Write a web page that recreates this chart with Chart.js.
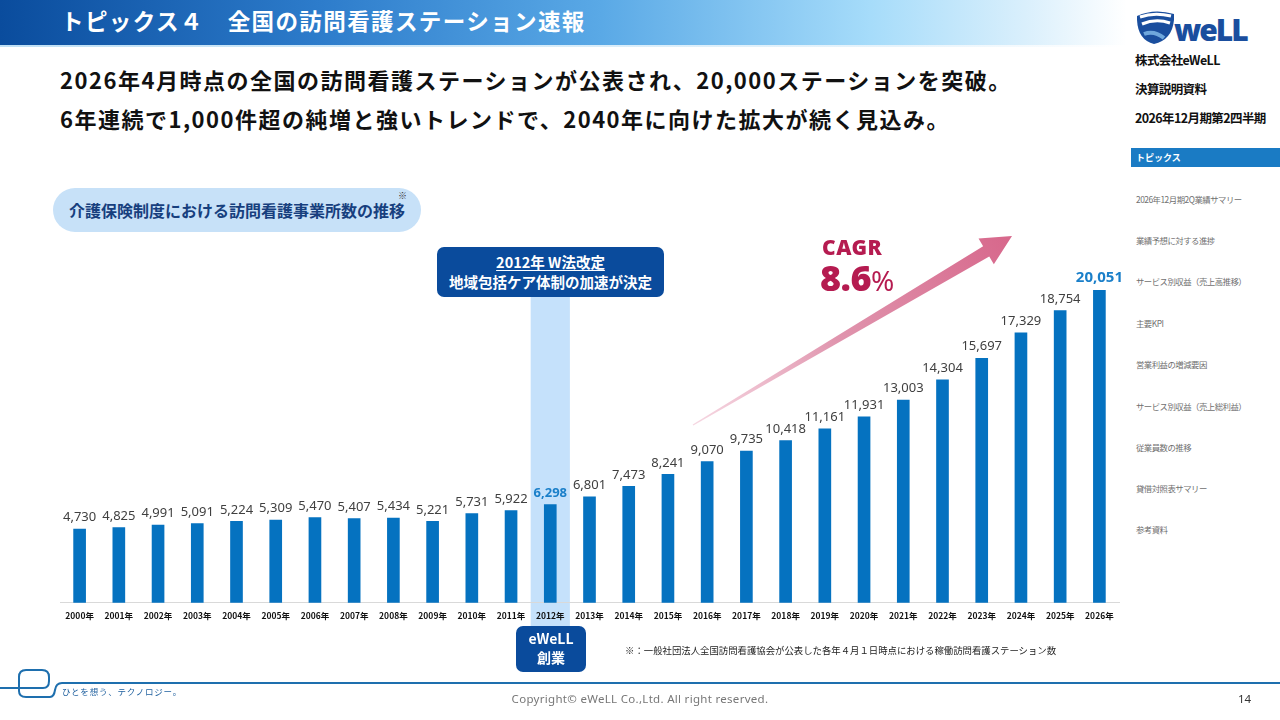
<!DOCTYPE html>
<html lang="ja">
<head>
<meta charset="utf-8">
<script src="https://cdn.jsdelivr.net/npm/chart.js@4.4.1/dist/chart.umd.min.js"></script>
<style>
  html,body{margin:0;padding:0;background:#fff;}
  body{width:1280px;height:720px;position:relative;overflow:hidden;font-family:"Noto Sans CJK JP","Noto Sans",sans-serif;}
  .abs{position:absolute;}
  #header{left:0;top:0;width:1280px;height:45px;background:linear-gradient(90deg,#0a4c9d 0%,#2d7ccb 25%,#5aa9e6 47%,#a6dcfa 68%,#d9effc 80%,#ffffff 88%);}
  #headerline{left:0;top:45px;width:1120px;height:2px;background:linear-gradient(90deg,#bfe0f5,#e6f3fb 80%,#fff);}
  #title{left:61px;top:4px;color:#fff;font-weight:700;font-size:22.5px;letter-spacing:1.4px;white-space:nowrap;}
  .headline{left:60px;font-weight:700;font-size:22px;color:#111;white-space:nowrap;letter-spacing:1.5px;}
  #pill{left:53px;top:188px;width:368px;height:44px;border-radius:22px;background:#c7e1f8;color:#173f7e;font-weight:700;font-size:16px;line-height:44px;text-align:center;}
  #pillmark{left:398px;top:189px;font-size:9px;color:#333;}
  #cv{left:0;top:0;}
  #note1{left:437px;top:247px;width:227px;height:50px;border-radius:7px;background:#0a4b9c;color:#fff;font-weight:700;font-size:14.5px;line-height:20px;text-align:center;padding-top:5px;box-sizing:border-box;}
  #note1 u{text-decoration:underline;text-underline-offset:2px;}
  #note2{left:516px;top:626px;width:70px;height:46px;border-radius:7px;background:#0a4b9c;color:#fff;font-weight:700;font-size:14px;line-height:19px;text-align:center;padding-top:3px;box-sizing:border-box;}
  #cagr1{left:822px;top:233px;color:#b51b50;font-weight:900;font-size:21px;font-family:"Noto Sans","Open Sans",sans-serif;letter-spacing:0.5px;}
  #cagr2{left:820px;top:253px;color:#b51b50;font-weight:900;font-size:36px;font-family:"Noto Sans","Open Sans",sans-serif;letter-spacing:-0.5px;}
  #cagr2 span{font-weight:400;font-size:28px;}
  #foot{left:625px;top:643px;font-size:9.4px;color:#222;white-space:nowrap;}
  .side{left:1135px;font-weight:700;font-size:12.5px;color:#111;white-space:nowrap;letter-spacing:-0.6px;}
  #sidehl{left:1131px;top:148px;width:149px;height:19px;background:#1a7bc4;color:#fff;font-weight:700;font-size:9px;line-height:19px;padding-left:5px;box-sizing:border-box;}
  .item{left:1136px;font-size:8.4px;color:#6f6f6f;white-space:nowrap;letter-spacing:-0.5px;}
  #tag{left:62px;top:685px;font-size:8.5px;letter-spacing:0.8px;color:#1e5f9e;}
  #copy{left:0;width:1280px;top:691px;text-align:center;font-size:11.5px;letter-spacing:0.3px;color:#777;font-family:"Noto Sans","DejaVu Sans",sans-serif;}
  #page{left:1238px;top:691px;font-size:11.5px;color:#333;font-family:"Noto Sans",sans-serif;}
</style>
</head>
<body>
<div id="header" class="abs"></div>
<div id="headerline" class="abs"></div>
<div id="title" class="abs">トピックス４　全国の訪問看護ステーション速報</div>

<svg class="abs" style="left:1134px;top:4px" width="120" height="44" viewBox="0 0 120 44">
  <path d="M3 12 Q20 4 40 10 L40 16 Q38 36 20 40 Q4 36 3 16 Z" fill="#1a4e9e"/>
  <path d="M6 13 Q20 8 37 12" stroke="#fff" stroke-width="3" fill="none"/>
  <path d="M8 20 Q22 14 36 19" stroke="#fff" stroke-width="3" fill="none"/>
  <path d="M10 30 Q20 26 30 34" stroke="#6fa7dc" stroke-width="4" fill="none"/>
  <text x="40" y="37" font-family="Noto Sans, sans-serif" font-weight="900" font-size="30" fill="#1a4e9e" letter-spacing="-2">weLL</text>
</svg>
<div class="abs side" style="top:50px">株式会社eWeLL</div>
<div class="abs side" style="top:79px">決算説明資料</div>
<div class="abs side" style="top:108px">2026年12月期第2四半期</div>
<div id="sidehl" class="abs">トピックス</div>
<div class="abs item" style="top:193px">2026年12月期2Q業績サマリー</div>
<div class="abs item" style="top:234px">業績予想に対する進捗</div>
<div class="abs item" style="top:275px">サービス別収益（売上高推移）</div>
<div class="abs item" style="top:317px">主要KPI</div>
<div class="abs item" style="top:358px">営業利益の増減要因</div>
<div class="abs item" style="top:400px">サービス別収益（売上総利益）</div>
<div class="abs item" style="top:441px">従業員数の推移</div>
<div class="abs item" style="top:482px">貸借対照表サマリー</div>
<div class="abs item" style="top:523px">参考資料</div>

<div class="abs headline" style="top:63px">2026年4月時点の全国の訪問看護ステーションが公表され、20,000ステーションを突破。</div>
<div class="abs headline" style="top:102px">6年連続で1,000件超の純増と強いトレンドで、2040年に向けた拡大が続く見込み。</div>

<div id="pill" class="abs">介護保険制度における訪問看護事業所数の推移</div>
<div id="pillmark" class="abs">※</div>

<canvas id="cv" class="abs" width="1280" height="720"></canvas>

<div id="note1" class="abs"><u>2012年 W法改定</u><br>地域包括ケア体制の加速が決定</div>
<div id="note2" class="abs">eWeLL<br>創業</div>
<div id="cagr1" class="abs">CAGR</div>
<div id="cagr2" class="abs">8.6<span>%</span></div>
<div id="foot" class="abs">※：一般社団法人全国訪問看護協会が公表した各年４月１日時点における稼働訪問看護ステーション数</div>

<svg class="abs" style="left:0;top:660px" width="1280" height="44">
  <path d="M0 28 L43 28 Q49 28 49 21 L49 17 Q49 10 42 10 L26 10 Q19 10 19 17 L19 31 Q19 37 26 37 L50 37 Q54 37 55 30 Q56 23 62 23 L1280 23" stroke="#1e6fae" stroke-width="2" fill="none"/>
</svg>
<div id="tag" class="abs">ひとを想う、テクノロジー。</div>
<div id="copy" class="abs">Copyright© eWeLL Co.,Ltd. All right reserved.</div>
<div id="page" class="abs">14</div>

<script>
const years = ["2000年","2001年","2002年","2003年","2004年","2005年","2006年","2007年","2008年","2009年","2010年","2011年","2012年","2013年","2014年","2015年","2016年","2017年","2018年","2019年","2020年","2021年","2022年","2023年","2024年","2025年","2026年"];
const stations = [4730,4825,4991,5091,5224,5309,5470,5407,5434,5221,5731,5922,6298,6801,7473,8241,9070,9735,10418,11161,11931,13003,14304,15697,17329,18754,20051];
const highlightIndex = 12;
const lastIndex = stations.length - 1;

const bandPlugin = {
  id: 'band',
  beforeDraw(chart) {
    const {ctx, scales: {x}} = chart;
    const cx = x.getPixelForValue(highlightIndex);
    const w = (x.getPixelForValue(1) - x.getPixelForValue(0));
    ctx.save();
    ctx.fillStyle = '#c5e1fb';
    ctx.fillRect(cx - w / 2, 297, w, 330);
    ctx.restore();
  }
};

const labelPlugin = {
  id: 'labels',
  afterDatasetsDraw(chart) {
    const {ctx} = chart;
    const meta = chart.getDatasetMeta(0);
    ctx.save();
    ctx.textAlign = 'center';
    ctx.textBaseline = 'bottom';
    meta.data.forEach((bar, i) => {
      const v = stations[i].toLocaleString('en-US');
      if (i === highlightIndex) {
        ctx.font = 'bold 13px "Noto Sans", sans-serif';
        ctx.fillStyle = '#1a7fc9';
      } else if (i === lastIndex) {
        ctx.font = 'bold 15px "Noto Sans", sans-serif';
        ctx.fillStyle = '#1a7fc9';
      } else {
        ctx.font = '13px "Noto Sans", sans-serif';
        ctx.fillStyle = '#404040';
      }
      ctx.fillText(v, bar.x, bar.y - 5);
    });
    ctx.restore();
  }
};

const arrowPlugin = {
  id: 'arrow',
  afterDraw(chart) {
    const {ctx} = chart;
    const T = {x: 693, y: 425}, tip = {x: 1012, y: 236};
    const dx = tip.x - T.x, dy = tip.y - T.y, L = Math.hypot(dx, dy);
    const u = {x: dx / L, y: dy / L}, n = {x: -u.y, y: u.x};
    const B = {x: tip.x - 30 * u.x, y: tip.y - 30 * u.y};
    const p = (c, k) => [c.x + k * n.x, c.y + k * n.y];
    const g = ctx.createLinearGradient(T.x, T.y, tip.x, tip.y);
    g.addColorStop(0, 'rgba(236,175,196,0.5)');
    g.addColorStop(0.45, '#e095ae');
    g.addColorStop(1, '#d7678b');
    ctx.save();
    ctx.fillStyle = g;
    ctx.beginPath();
    ctx.moveTo(...p(T, -0.6));
    ctx.lineTo(...p(B, -6));
    ctx.lineTo(...p(B, -15));
    ctx.lineTo(tip.x, tip.y);
    ctx.lineTo(...p(B, 15));
    ctx.lineTo(...p(B, 6));
    ctx.lineTo(...p(T, 0.6));
    ctx.closePath();
    ctx.fill();
    ctx.restore();
  }
};

new Chart(document.getElementById('cv'), {
  type: 'bar',
  data: {
    labels: years,
    datasets: [{
      data: stations,
      backgroundColor: '#0572c0',
      barThickness: 12
    }]
  },
  options: {
    responsive: false,
    animation: false,
    events: [],
    layout: {padding: {left: 60, right: 161, top: 260, bottom: 91}},
    plugins: {legend: {display: false}, tooltip: {enabled: false}},
    scales: {
      x: {
        grid: {display: false, drawTicks: false},
        border: {display: true, color: '#d9d9d9', width: 1},
        ticks: {color: '#111', padding: 8, maxRotation: 0, autoSkip: false,
                font: {family: '"Noto Sans CJK JP", sans-serif', size: 8.5, weight: 'bold'}}
      },
      y: {display: false, min: 0, max: 22000}
    }
  },
  plugins: [bandPlugin, labelPlugin, arrowPlugin]
});
</script>
</body>
</html>
